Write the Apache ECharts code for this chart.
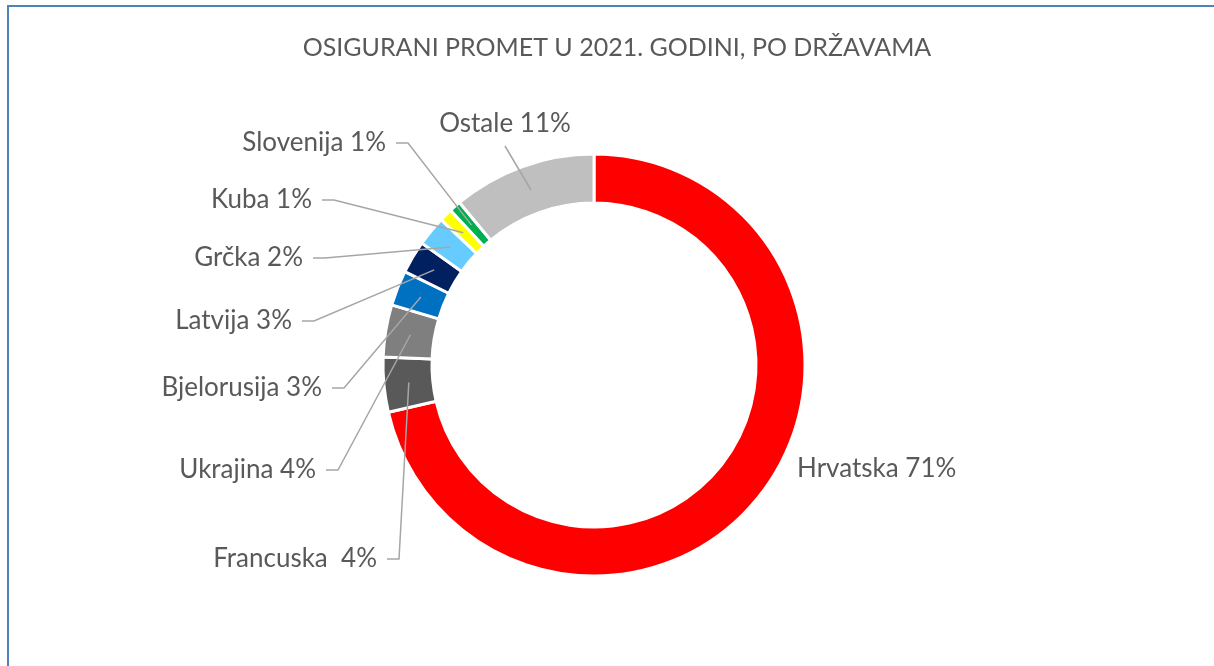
<!DOCTYPE html>
<html>
<head>
<meta charset="utf-8">
<script src="https://cdn.jsdelivr.net/npm/echarts@6/dist/echarts.min.js"></script>
<style>
	html, body { margin: 0; padding: 0; background: #fff; }
	#main { width: 1214px; height: 666px; }
</style>
</head>
<body>
<div id="main"></div>
<script>
// podaci (udjeli u %, procijenjeni sa slike)
var categories = ['Hrvatska', 'Francuska', 'Ukrajina', 'Bjelorusija', 'Latvija', 'Grčka', 'Kuba', 'Slovenija', 'Ostale'];
var values = [71.4, 4.2, 4.0, 2.7, 2.5, 2.3, 1.0, 0.9, 11.0];
var labelTexts = ['Hrvatska 71%', 'Francuska  4%', 'Ukrajina 4%', 'Bjelorusija 3%', 'Latvija 3%', 'Grčka 2%', 'Kuba 1%', 'Slovenija 1%', 'Ostale 11%'];
var colors = ['#FF0000', '#595959', '#7F7F7F', '#0070C0', '#002060', '#66CCFF', '#FFFF00', '#00B050', '#BFBFBF'];

// pozicije labela (x, y, poravnanje)
var labelPos = [
	[797, 469, 'left'],
	[377, 559, 'right'],
	[316, 470, 'right'],
	[322, 388, 'right'],
	[292, 321, 'right'],
	[303, 258, 'right'],
	[312, 200, 'right'],
	[386, 143, 'right'],
	[505, 124, 'center']
];

var fontFam = 'Lato, "Liberation Sans", sans-serif';

function pieChart() {
	var myChart = echarts.init(document.getElementById('main'));
	var ringData = [], labelData = [];
	for (var i = 0; i < categories.length; i++) {
		ringData.push({ name: categories[i], value: values[i], itemStyle: { color: colors[i] } });
		labelData.push({
			name: categories[i],
			value: values[i],
			labelLine: { show: i !== 0 }
		});
	}
	var option = {
		animation: false,
		title: {
			text: 'OSIGURANI PROMET U 2021. GODINI, PO DRŽAVAMA',
			left: 612,
			textAlign: 'center',
			top: 30,
			textStyle: {
				fontFamily: fontFam,
				fontSize: 25,
				fontWeight: 'normal',
				color: '#595959'
			}
		},
		graphic: [{
			type: 'rect',
			shape: { x: 8, y: 6, width: 1240, height: 720 },
			style: { fill: 'none', stroke: '#4F81BD', lineWidth: 2 },
			silent: true
		}],
		series: [{
			name: 'prsten',
			type: 'pie',
			z: 2,
			center: [594, 365],
			radius: [162, 211],
			startAngle: 90,
			silent: true,
			avoidLabelOverlap: false,
			label: { show: false },
			labelLine: { show: false },
			itemStyle: { borderColor: '#fff', borderWidth: 3 },
			emphasis: { disabled: true },
			data: ringData
		}, {
			// nevidljivi krug samo za labele, linije kreću od sredine prstena
			name: 'labele',
			type: 'pie',
			z: 5,
			center: [594, 365],
			radius: [0, 186],
			startAngle: 90,
			silent: true,
			avoidLabelOverlap: false,
			itemStyle: { color: 'rgba(0,0,0,0)' },
			emphasis: { disabled: true },
			label: {
				show: true,
				position: 'outside',
				fontFamily: fontFam,
				fontSize: 26,
				color: '#595959',
				formatter: function (p) { return labelTexts[p.dataIndex]; }
			},
			labelLine: {
				show: true,
				length: 10,
				length2: 12,
				lineStyle: { color: '#A6A6A6', width: 1.5 }
			},
			labelLayout: function (p) {
				var pos = labelPos[p.dataIndex];
				var res = { x: pos[0], y: pos[1], align: pos[2], verticalAlign: 'middle' };
				var start = p.labelLinePoints && p.labelLinePoints[0];
				if (start) {
					if (pos[2] === 'right') {
						res.labelLinePoints = [start, [pos[0] + 22, pos[1]], [pos[0] + 10, pos[1]]];
					} else if (pos[2] === 'center') {
						res.labelLinePoints = [start, [pos[0], pos[1] + 22], [pos[0], pos[1] + 22]];
					}
				}
				return res;
			},
			data: labelData
		}]
	};
	myChart.setOption(option);
}
pieChart();
</script>
</body>
</html>
